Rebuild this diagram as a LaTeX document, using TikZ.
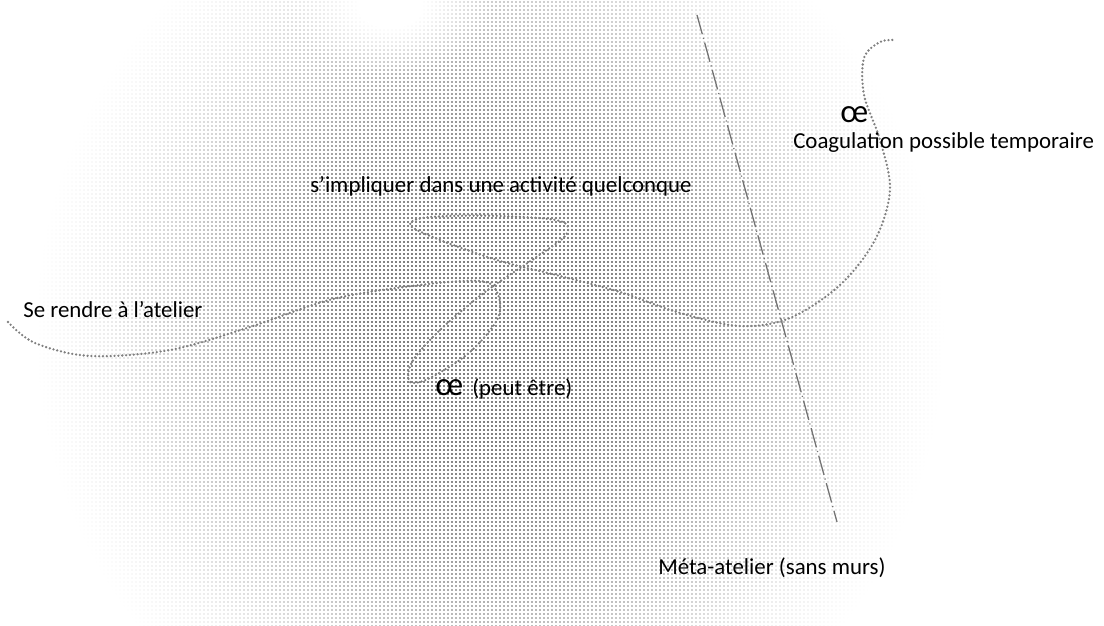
\documentclass[tikz,border=0pt]{standalone}
\usepackage{fontspec}
\setmainfont{Carlito}
\usetikzlibrary{patterns,fadings}
\pgfdeclarepatternformonly{halftone}{\pgfqpoint{-1pt}{-1pt}}{\pgfqpoint{1.8pt}{1.8pt}}{\pgfqpoint{2.8pt}{2.8pt}}{\pgfpathcircle{\pgfqpoint{0pt}{0pt}}{0.68pt}\pgfusepath{fill}}
\pgfdeclareradialshading{blobshade}{\pgfpointorigin}{color(0bp)=(white); color(6bp)=(white); color(12bp)=(black!22); color(17bp)=(black!58); color(21bp)=(black!86); color(25bp)=(black); color(50bp)=(black)}
\pgfdeclarefading{blobfade}{\pgfuseshading{blobshade}}
\pgfdeclareradialshading{spotshade}{\pgfpointorigin}{color(0bp)=(white); color(8bp)=(white); color(25bp)=(black); color(50bp)=(black)}
\pgfdeclarefading{spotfade}{\pgfuseshading{spotshade}}
\begin{document}
\begin{tikzpicture}[x=0.7pt,y=-0.7pt,
  lbl/.style={inner sep=0pt, anchor=base west, font=\fontsize{16}{19}\selectfont, text=black},
  lig/.style={inner sep=0pt, anchor=base west, font=\fontsize{23}{26}\selectfont, text=black},
  trail/.style={draw=black!50, line width=1.8pt, line cap=round, dash pattern=on 0pt off 2.7pt},
  border/.style={draw=black!55, line width=0.9pt, dash pattern=on 14pt off 2.6pt on 0.8pt off 2.6pt}]
\useasboundingbox (0,0) rectangle (1104,626);
% halftone background
\fill[pattern=halftone, pattern color=black, path fading=blobfade] (490,330) ellipse (455 and 470);
\fill[white, path fading=spotfade] (390,5) ellipse (100 and 70);
% dashed border of the meta-atelier
\coordinate (dA) at (697,15);
\coordinate (dB) at (837,522);
\draw[border] (dA) -- (dB);
% dotted trail
\draw[trail] plot[smooth, tension=0.55] coordinates {
 (8,322) (35,343) (90,356) (170,350) (250,327) (333,299) (420,285) (480,281)
 (497,292) (498,318) (470,352) (430,378) (410,382) (412,362) (440,330) (485,292)
 (535,258) (566,235) (560,221) (500,216) (430,217) (410,225) (440,240) (500,261)
 (560,276) (620,292) (680,313) (740,326) (790,318) (840,285) (875,240) (890,190)
 (880,140) (864,95) (864,58) (880,42) (896,40)};
% labels
\node[lbl] (implique) at (310,192) {s’impliquer dans une activité quelconque};
\node[lbl] (rendre) at (23,317) {Se rendre à l’atelier};
\node[lig] (oeA) at (840,122) {œ};
\node[lbl] (coag) at (793,148) {Coagulation possible temporaire};
\node[lig] (oeB) at (435,395) {œ};
\node[lbl] (peut) at (472,395) {(peut être)};
\node[lbl] (meta) at (658,574) {Méta-atelier (sans murs)};
\end{tikzpicture}
\end{document}
